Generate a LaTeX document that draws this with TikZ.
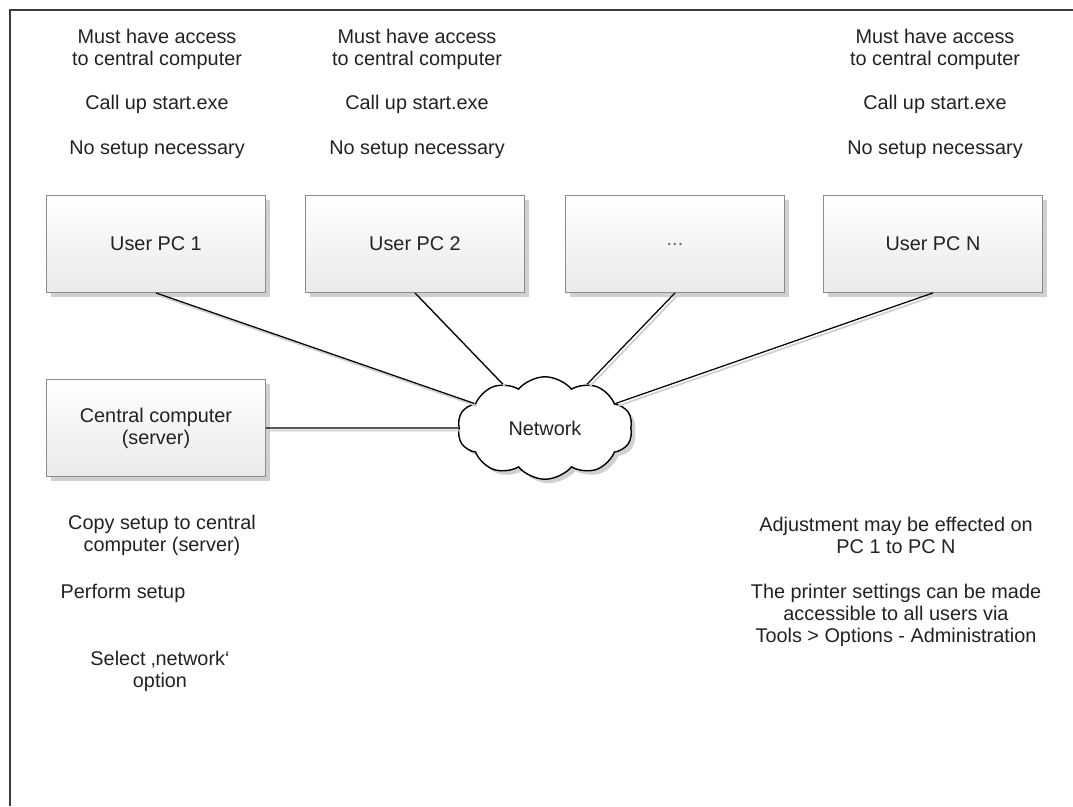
\documentclass[tikz,border=0pt]{standalone}
\usepackage{fontspec}
\setmainfont{Liberation Sans}
\usetikzlibrary{shapes.symbols,shadows,positioning}
\definecolor{boxedge}{RGB}{140,140,140}
\definecolor{boxfill}{RGB}{234,234,234}
\definecolor{shadegray}{RGB}{208,208,208}
\definecolor{txtdark}{RGB}{34,34,34}
\definecolor{framegray}{RGB}{60,60,60}

\begin{document}
\begin{tikzpicture}[x=0.02cm, y=-0.02cm,
      pcbox/.style={rectangle, draw=boxedge, line width=0.5pt, top color=white, bottom color=boxfill, minimum width=4.38cm, minimum height=1.94cm, align=center, font=\fontsize{11.3}{12.5}\selectfont, text=txtdark, drop shadow={fill=shadegray, opacity=1, shadow xshift=0.9mm, shadow yshift=-0.9mm}},
      cloudnet/.style={cloud, cloud puffs=10, cloud puff arc=100, aspect=1.8, draw=black, line width=0.8pt, fill=white, minimum width=3.5cm, minimum height=2.05cm, inner sep=0pt, font=\fontsize{11.3}{12.5}\selectfont, text=txtdark, drop shadow={fill=shadegray, opacity=1, shadow xshift=0.8mm, shadow yshift=-0.8mm}},
      note/.style={align=center, inner sep=0pt, font=\fontsize{11.3}{12.5}\selectfont, text=txtdark},
      link/.style={draw=black, line width=0.7pt},
      linkshadow/.style={draw=shadegray, line width=1pt}
    ]
      \useasboundingbox (0,0) rectangle (1073,806);
      % Frame
      \draw[framegray, line width=1pt] (10,806) -- (10,10) -- (1073,10);

      % Notes above the user PCs
      \foreach \x/\i in {157/1, 417/2, 935/n} {
        \node[note] (access\i) at (\x,49) {Must have access\\to central computer};
        \node[note] (start\i) at (\x,104) {Call up start.exe};
        \node[note] (nosetup\i) at (\x,150) {No setup necessary};
      }

      % Top row: user PCs
      \node[pcbox] (pc1) at (156,244) {User PC 1};
      \node[pcbox] (pc2) at (415,244) {User PC 2};
      \node[pcbox] (pcdots) at (675,244) {\textcolor{black!60}{...}};
      \node[pcbox] (pcn) at (933,244) {User PC N};

      % Server and network cloud
      \node[pcbox] (server) at (156,428) {Central computer\\(server)};
      \node[cloudnet] (net) at (545,428) {Network};

      % Links (shadow first, then line)
      \begin{scope}[transform canvas={xshift=1.4pt, yshift=-1.4pt}]
        \foreach \n/\a in {pc1/south, pc2/south, pcdots/south, pcn/south, server/east}
          \draw[linkshadow] (\n.\a) -- (net);
      \end{scope}
      \foreach \n/\a in {pc1/south, pc2/south, pcdots/south, pcn/south, server/east}
        \draw[link] (\n.\a) -- (net);

      % Notes below
      \node[note] (copy) at (162,535) {Copy setup to central\\computer (server)};
      \node[note] (perform) at (123,593) {Perform setup};
      \node[note] (select) at (160,671) {Select ‚network‘\\option};
      \node[note] (adjust) at (896,535) {Adjustment may be effected on\\PC 1 to PC N};
      \node[note] (printer) at (896,615) {The printer settings can be made\\accessible to all users via\\Tools > Options - Administration};
    \end{tikzpicture}
\end{document}
